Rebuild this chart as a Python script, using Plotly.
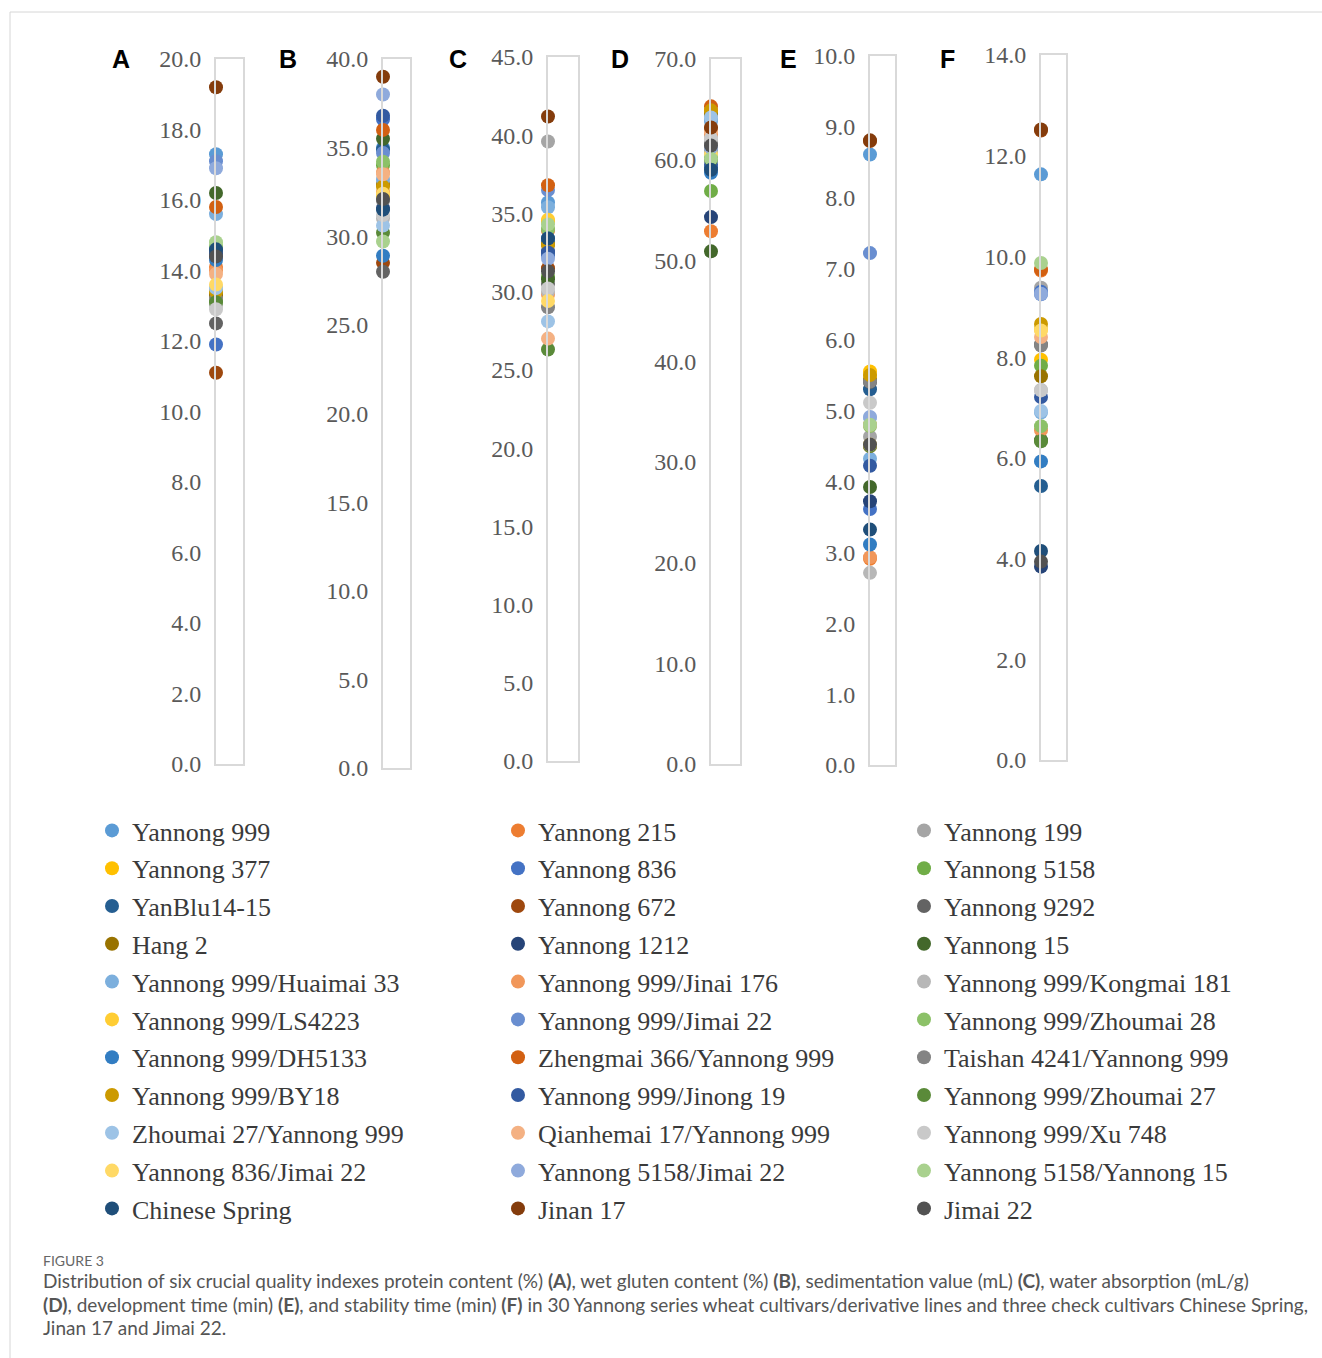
import plotly.graph_objects as go

# ---------------- data ----------------
cultivars = [
    "Yannong 999", "Yannong 215", "Yannong 199",
    "Yannong 377", "Yannong 836", "Yannong 5158",
    "YanBlu14-15", "Yannong 672", "Yannong 9292",
    "Hang 2", "Yannong 1212", "Yannong 15",
    "Yannong 999/Huaimai 33", "Yannong 999/Jinai 176", "Yannong 999/Kongmai 181",
    "Yannong 999/LS4223", "Yannong 999/Jimai 22", "Yannong 999/Zhoumai 28",
    "Yannong 999/DH5133", "Zhengmai 366/Yannong 999", "Taishan 4241/Yannong 999",
    "Yannong 999/BY18", "Yannong 999/Jinong 19", "Yannong 999/Zhoumai 27",
    "Zhoumai 27/Yannong 999", "Qianhemai 17/Yannong 999", "Yannong 999/Xu 748",
    "Yannong 836/Jimai 22", "Yannong 5158/Jimai 22", "Yannong 5158/Yannong 15",
    "Chinese Spring", "Jinan 17", "Jimai 22",
]

colors = [
    "#5B9BD5", "#ED7D31", "#A5A5A5", "#FFC000", "#4472C4", "#70AD47",
    "#255E91", "#9E480E", "#636363", "#997300", "#264478", "#43682B",
    "#7CAFDD", "#F1975A", "#B7B7B7", "#FFCD33", "#698ED0", "#8CC168",
    "#327DC2", "#D26012", "#848484", "#CC9A00", "#335AA1", "#5A8A39",
    "#9DC3E6", "#F4B183", "#C9C9C9", "#FFD966", "#8FAADC", "#A9D18E",
    "#1F4E79", "#843C0C", "#525252",
]

protein_content = [17.3, 14.1, 13.3, 13.4, 11.9, 13.1, 14.6, 11.1, 12.5, 13.3, 14.5,
                   16.2, 15.6, 14.0, 13.0, 13.5, 17.1, 14.7, 14.3, 15.8, 13.2, 13.4,
                   14.4, 13.1, 13.5, 13.9, 12.9, 13.6, 16.9, 14.8, 14.6, 19.2, 14.4]

wet_gluten = [35.0, 32.5, 33.0, 32.3, 36.6, 34.0, 34.9, 28.5, 28.0, 32.9, 31.6,
              35.5, 33.2, 33.6, 31.0, 32.2, 34.7, 34.2, 28.9, 36.0, 32.0, 32.8,
              36.8, 30.2, 30.6, 33.5, 31.2, 32.4, 38.0, 29.7, 31.5, 39.0, 32.1]

sedimentation = [35.7, 33.9, 39.6, 34.5, 32.3, 31.0, 33.2, 31.5, 30.5, 33.0, 32.6,
                 30.8, 35.4, 29.8, 30.0, 34.6, 36.5, 34.0, 33.4, 36.8, 29.0, 33.0,
                 32.5, 26.3, 28.1, 27.0, 30.2, 29.4, 32.1, 34.3, 33.4, 41.2, 31.3]

water_absorption = [64.0, 52.9, 62.3, 64.8, 60.9, 56.9, 59.2, 63.0, 61.6, 64.5, 54.3,
                    50.9, 63.8, 62.5, 62.0, 61.0, 60.8, 60.3, 58.7, 65.3, 61.5, 64.9,
                    59.5, 60.0, 64.2, 62.8, 62.1, 60.6, 61.2, 60.1, 59.0, 63.2, 61.4]

development_time = [8.61, 2.91, 4.63, 5.55, 3.61, 4.80, 5.30, 8.80, 5.40, 5.45, 3.72,
                    3.92, 4.32, 2.93, 2.71, 5.50, 7.22, 4.78, 3.11, 4.50, 5.41, 5.50,
                    4.22, 4.50, 4.90, 4.80, 5.11, 4.52, 4.91, 4.80, 3.32, 8.81, 4.52]

stability_time = [11.63, 9.72, 9.38, 7.95, 9.30, 7.83, 5.44, 12.50, 8.25, 7.62, 3.84,
                  6.35, 6.90, 6.55, 7.35, 8.55, 9.25, 6.63, 5.93, 9.74, 8.23, 8.66,
                  7.21, 6.33, 6.93, 8.40, 7.34, 8.53, 9.26, 9.87, 4.15, 12.52, 3.94]

panel_letters = ["A", "B", "C", "D", "E", "F"]
axis_max = [20, 40, 45, 70, 10, 14]
axis_step = [2, 5, 5, 10, 1, 2]

series_by_panel = [protein_content, wet_gluten, sedimentation,
                   water_absorption, development_time, stability_time]

# ---------------- layout geometry (pixels) ----------------
W, H = 1322, 1358
box_x = [(216, 243), (383, 410), (548, 578), (711, 740), (870, 895), (1041, 1066)]
box_y = [(59, 764), (59, 768), (57, 761), (59, 764), (56, 765), (55, 760)]
letter_x = [121, 288, 458, 620, 788, 947]


def px(x):
    return x / W


def py(y):
    return 1 - y / H


fig = go.Figure()

legend_names = ["legend", "legend2", "legend3"]

for j, name in enumerate(cultivars):
    for i in range(6):
        fig.add_trace(go.Scatter(
            x=[0], y=[series_by_panel[i][j]],
            xaxis=f"x{i + 1}", yaxis=f"y{i + 1}",
            mode="markers",
            marker=dict(color=colors[j], size=14, line=dict(width=0)),
            name=name, legendgroup=name,
            showlegend=(i == 0),
            legend=legend_names[j % 3],
            cliponaxis=False,
            hovertemplate=name + ": %{y}<extra></extra>",
        ))

layout = dict(
    width=W, height=H, autosize=False,
    margin=dict(l=0, r=0, t=0, b=0, pad=0),
    paper_bgcolor="white", plot_bgcolor="white",
    showlegend=True,
)

box_color = "#d9d9d9"
for i in range(6):
    sfx = "" if i == 0 else str(i + 1)
    layout["xaxis" + sfx] = dict(
        domain=[px(box_x[i][0]), px(box_x[i][1])],
        range=[0, 1], anchor=f"y{i + 1}",
        showline=True, mirror=True, linecolor=box_color, linewidth=2,
        showticklabels=False, showgrid=False, zeroline=False, ticks="",
        fixedrange=True, automargin=False,
    )
    layout["yaxis" + sfx] = dict(
        domain=[py(box_y[i][1]), py(box_y[i][0])],
        range=[0, axis_max[i]], anchor=f"x{i + 1}",
        tickmode="linear", tick0=0, dtick=axis_step[i], tickformat=".1f",
        showline=True, mirror=True, linecolor=box_color, linewidth=2,
        showgrid=False, zeroline=False, ticks="",
        ticklabelstandoff=8,
        tickfont=dict(family="Liberation Serif", size=24, color="#595959"),
        fixedrange=True, automargin=False,
    )

legend_x = [92, 498, 904]
for k, lg in enumerate(legend_names):
    layout[lg] = dict(
        x=px(legend_x[k]), y=py(807), xanchor="left", yanchor="top",
        orientation="v",
        font=dict(family="Liberation Serif", size=26, color="#3a3a3a"),
        bgcolor="rgba(0,0,0,0)", tracegroupgap=1, itemwidth=30,
    )

fig.update_layout(**layout)

# panel letters
for i, letter in enumerate(panel_letters):
    fig.add_annotation(
        x=px(letter_x[i]), y=py(59), xref="paper", yref="paper",
        text=f"<b>{letter}</b>", showarrow=False,
        xanchor="center", yanchor="middle",
        font=dict(family="Liberation Sans", size=25, color="black"),
    )

# frame lines
fig.add_shape(type="line", xref="paper", yref="paper",
              x0=px(10), x1=1, y0=py(12), y1=py(12),
              line=dict(color="#d6d6d6", width=1))
fig.add_shape(type="line", xref="paper", yref="paper",
              x0=px(10), x1=px(10), y0=py(12), y1=0,
              line=dict(color="#d6d6d6", width=1))

# caption
fig.add_annotation(
    x=px(41), y=py(1260), xref="paper", yref="paper",
    text="FIGURE 3", showarrow=False, xanchor="left", yanchor="middle",
    font=dict(family="Lato", size=14, color="#666666"),
)
caption_lines = [
    "Distribution of six crucial quality indexes protein content (%) <b>(A)</b>, wet gluten content (%) <b>(B)</b>, "
    "sedimentation value (mL) <b>(C)</b>, water absorption (mL/g)",
    "<b>(D)</b>, development time (min) <b>(E)</b>, and stability time (min) <b>(F)</b> in 30 Yannong series wheat "
    "cultivars/derivative lines and three check cultivars Chinese Spring,",
    "Jinan 17 and Jimai 22.",
]
caption_y = [1280, 1304, 1327]
for line, yy in zip(caption_lines, caption_y):
    fig.add_annotation(
        x=px(41), y=py(yy), xref="paper", yref="paper",
        text=line, showarrow=False, xanchor="left", yanchor="middle",
        font=dict(family="Lato", size=19, color="#555555"),
    )

fig.write_html("out.html", config={"displayModeBar": False},
               post_script="document.body.style.margin='0';")
